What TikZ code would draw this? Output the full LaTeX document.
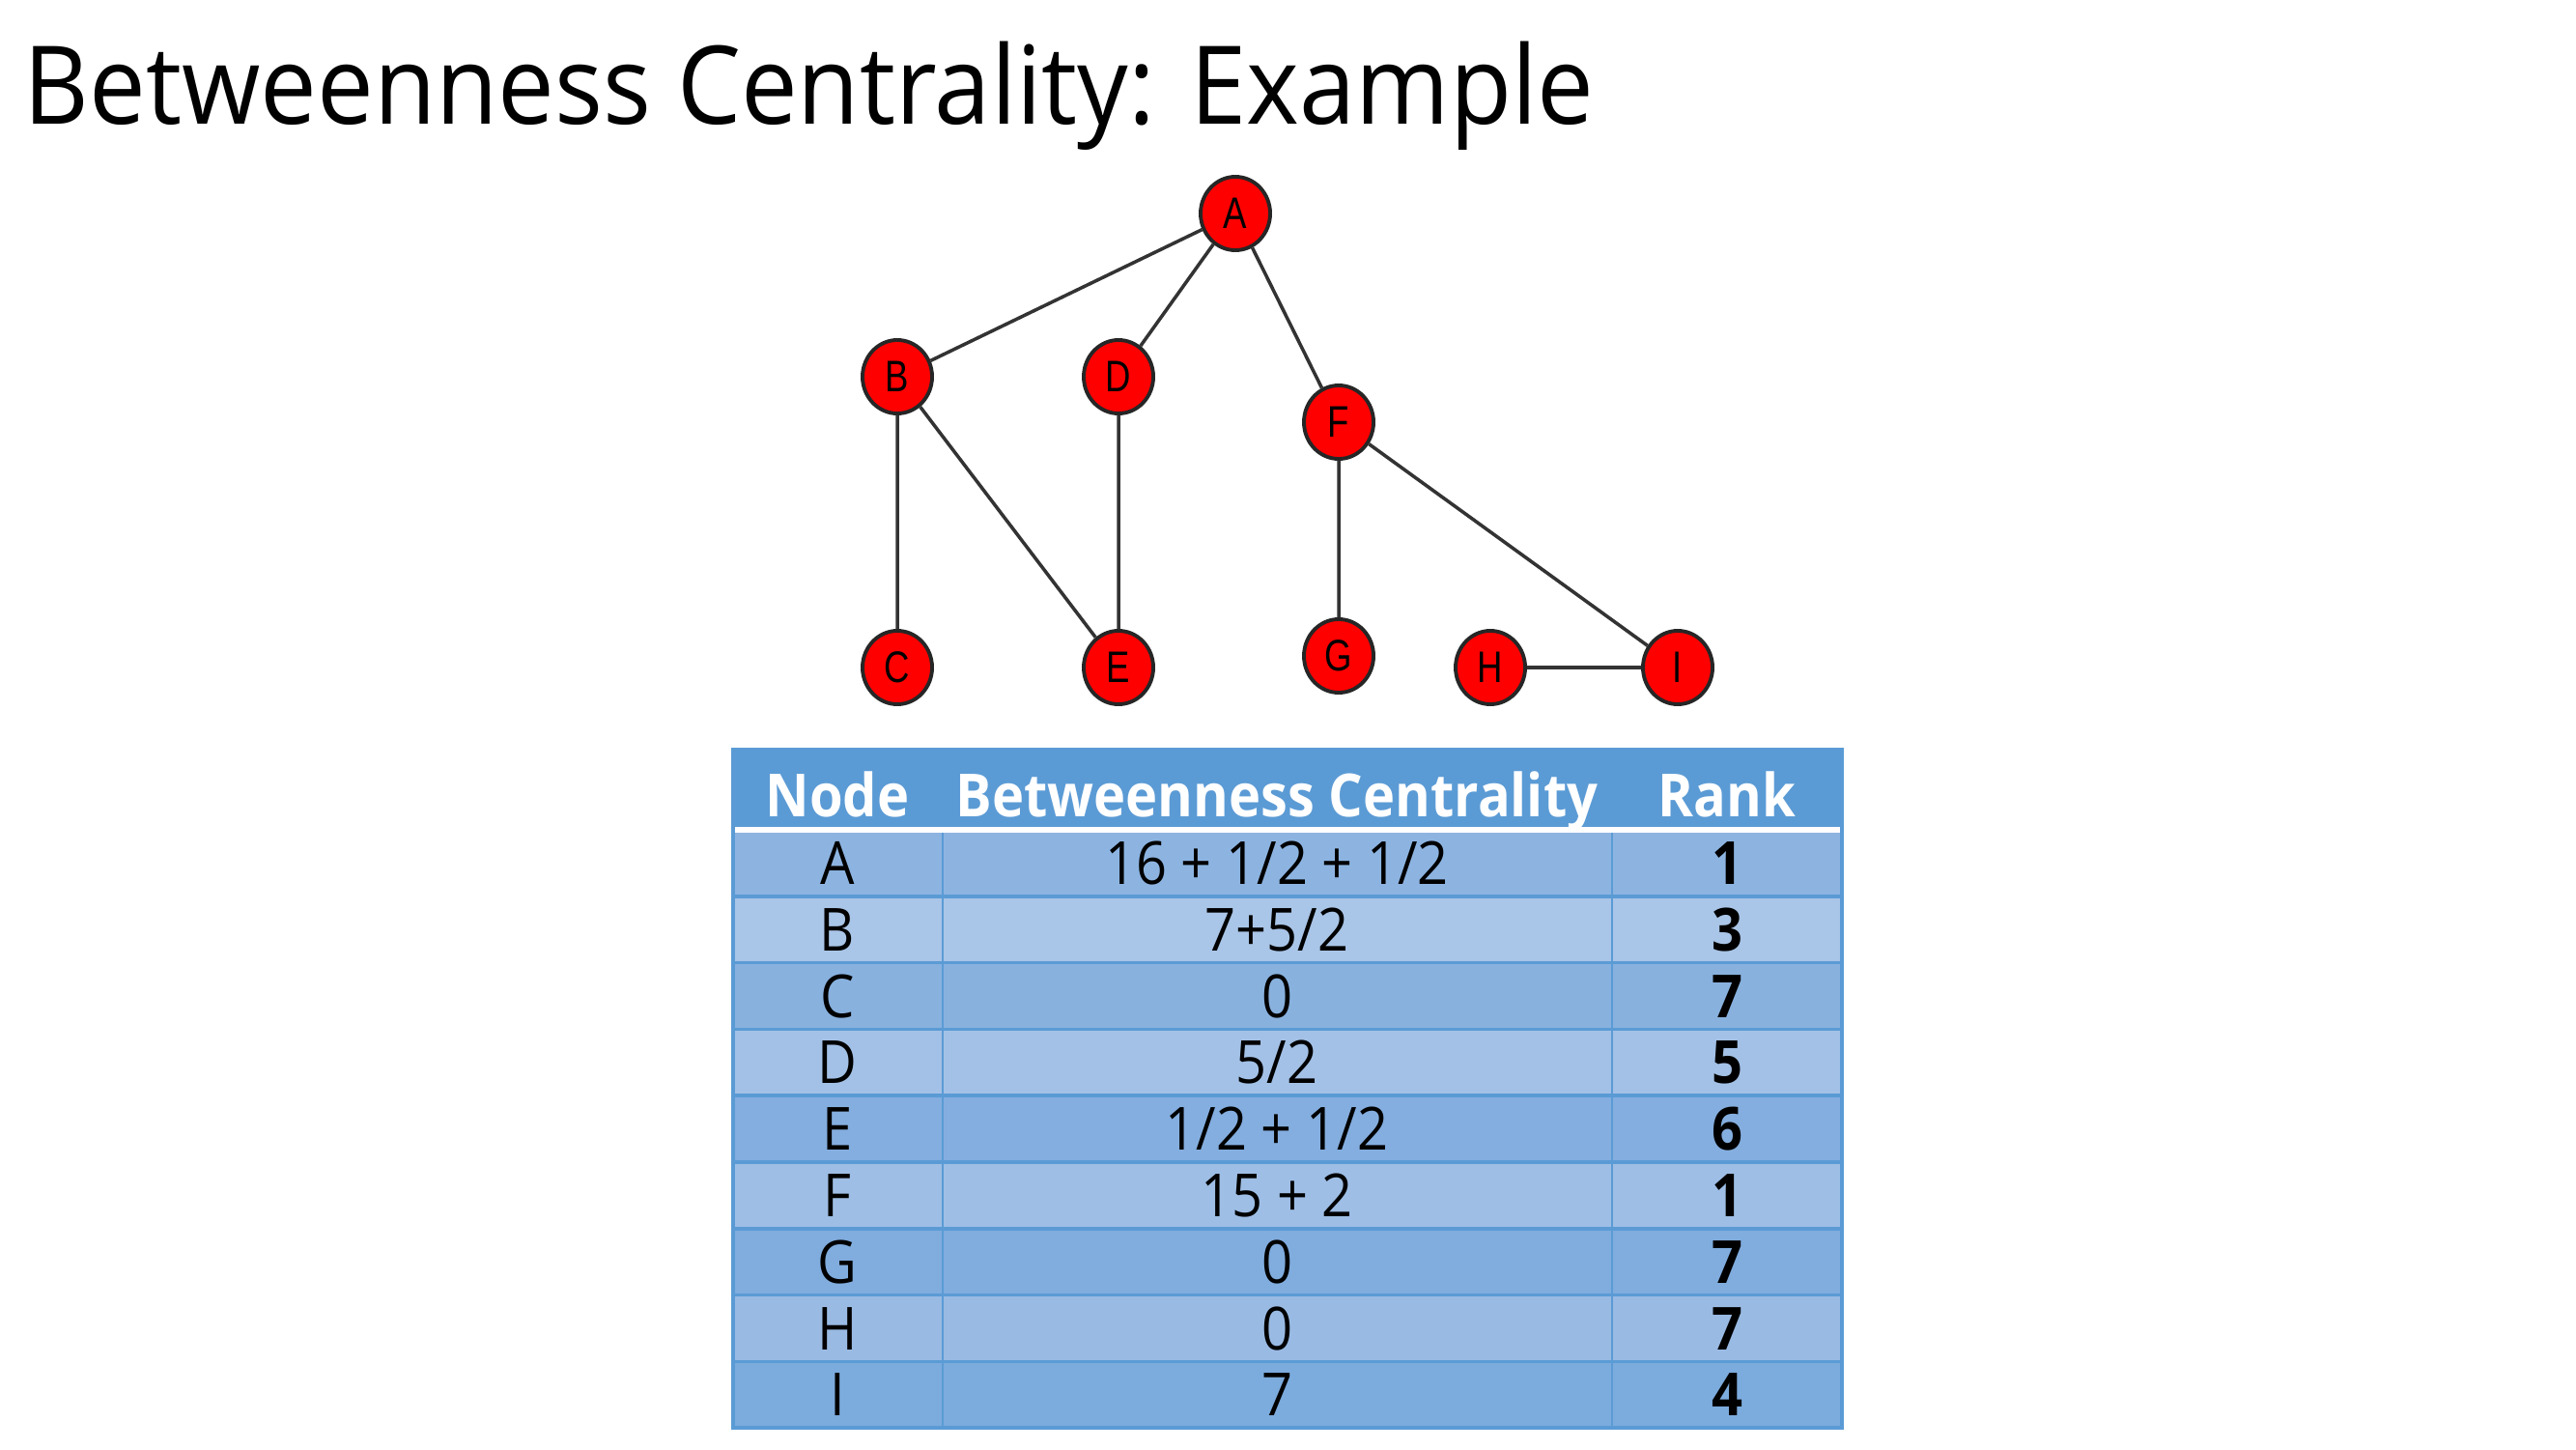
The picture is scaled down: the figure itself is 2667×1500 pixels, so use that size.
\documentclass[tikz,border=0pt]{standalone}
\usepackage{fontspec}
\setmainfont{Open Sans}[FakeStretch=0.91]
\newfontfamily\titlefont{Open Sans}[FakeStretch=0.93]
\newfontfamily\vertexfont{Liberation Sans}[FakeStretch=0.8]
\usetikzlibrary{shapes.geometric}
\definecolor{hdrblue}{HTML}{5B9BD5}
\definecolor{rowA}{HTML}{8DB4E1}
\definecolor{rowB}{HTML}{A9C5E7}
\definecolor{rowC}{HTML}{88B1DE}
\definecolor{rowD}{HTML}{A3C1E6}
\definecolor{rowE}{HTML}{84AEDF}
\definecolor{rowF}{HTML}{9EBEE5}
\definecolor{rowG}{HTML}{80ACDE}
\definecolor{rowH}{HTML}{99BAE3}
\definecolor{rowI}{HTML}{7CABDD}
\definecolor{vertexred}{HTML}{FF0000}

\begin{document}
\begin{tikzpicture}[x=0.01cm, y=-0.01cm,
        vertex/.style={ellipse, draw=black!85, line width=1.1pt, fill=vertexred,
            minimum width=0.72cm, minimum height=0.76cm, inner sep=0pt,
            font=\vertexfont\fontsize{13}{15}\selectfont},
        edge/.style={draw=black!80, line width=1pt},
        cell/.style={anchor=base, inner sep=0pt, font=\fontsize{17.5}{20}\selectfont},
        headcell/.style={cell, text=white, font=\fontsize{17.5}{20}\selectfont\bfseries}]
        \useasboundingbox (0, 0) rectangle (2667, 1500);

        % title
        \node[anchor=base west, inner sep=0pt, font=\titlefont\fontsize{32}{38}\selectfont] (title) at (24, 129) {Betweenness Centrality: Example};

        % graph
        \node[vertex] (A) at (1279, 221) {A};
        \node[vertex] (B) at (929, 390) {B};
        \node[vertex] (D) at (1158, 390) {D};
        \node[vertex] (F) at (1386, 437) {F};
        \node[vertex] (C) at (929, 691) {C};
        \node[vertex] (E) at (1158, 691) {E};
        \node[vertex] (G) at (1386, 679) {G};
        \node[vertex] (H) at (1543, 691) {H};
        \node[vertex] (I) at (1737, 691) {I};

        \draw[edge] (A) -- (B) (A) -- (D) (A) -- (F)
            (B) -- (C) (B) -- (E) (D) -- (E)
            (F) -- (G) (F) -- (I) (H) -- (I);

        % table
        \fill[hdrblue] (759, 776) rectangle (1907, 859);
        \node[headcell] (hnode) at (867, 845) {Node};
        \node[headcell] (hbc) at (1322, 845) {Betweenness Centrality};
        \node[headcell] (hrank) at (1788, 845) {Rank};

        \foreach \n/\bc/\rk [count=\i] in {A/{16 + 1/2 + 1/2}/1, B/{7+5/2}/3, C/0/7,
                D/{5/2}/5, E/{1/2 + 1/2}/6, F/{15 + 2}/1, G/0/7, H/0/7, I/7/4} {
            \fill[row\n] (759, {859+68.8*(\i-1)}) rectangle (1907, {859+68.8*\i});
            \node[cell] (n\n) at (867, {859+68.8*(\i-0.5)+22}) {\n};
            \node[cell] (bc\n) at (1322, {859+68.8*(\i-0.5)+22}) {\bc};
            \node[cell, font=\fontsize{17.5}{20}\selectfont\bfseries] (rk\n) at (1788, {859+68.8*(\i-0.5)+22}) {\rk};
        }

        \draw[hdrblue, line width=0.6pt] (976, 859) -- (976, 1478) (1669, 859) -- (1669, 1478);
        \foreach \i in {2,...,9}
            \draw[hdrblue, line width=1pt] (759, {859+68.8*(\i-1)}) -- (1907, {859+68.8*(\i-1)});
        \draw[white, line width=1.5pt] (759, 859) -- (1907, 859);
        \draw[hdrblue, line width=1pt] (759, 776) rectangle (1907, 1478);
    \end{tikzpicture}
\end{document}
